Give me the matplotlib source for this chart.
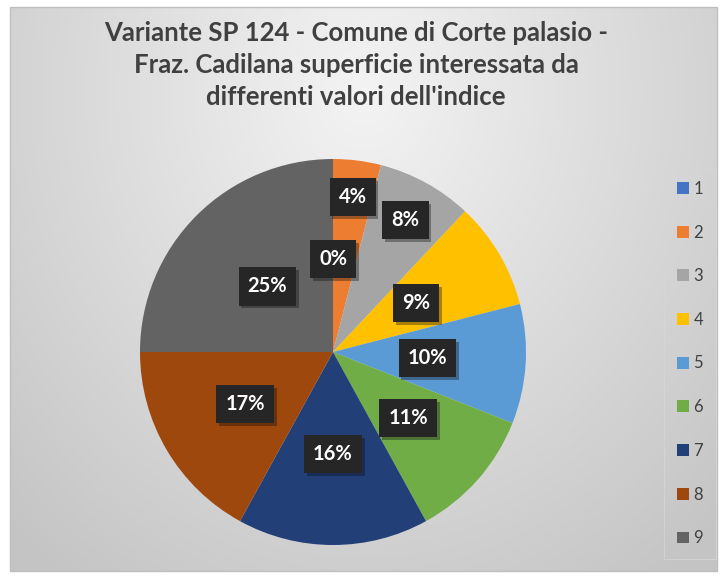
import numpy as np
import matplotlib
matplotlib.use("Agg")
import matplotlib.pyplot as plt
from matplotlib.patches import Rectangle, Patch
import matplotlib.patheffects as pe

categories = ["1", "2", "3", "4", "5", "6", "7", "8", "9"]
values = [0, 4, 8, 9, 10, 11, 16, 17, 25]
colors = ["#4472C4", "#ED7D31", "#A5A5A5", "#FFC000", "#5B9BD5",
          "#70AD47", "#223F78", "#9E480E", "#636363"]
label_dist = [0.48, 0.81, 0.78, 0.50, 0.49, 0.52, 0.53, 0.53, 0.48]
title = "Variante SP 124 - Comune di Corte palasio -\nFraz. Cadilana superficie interessata da\ndifferenti valori dell'indice"

W, H = 722, 576
fig = plt.figure(figsize=(W / 100, H / 100), dpi=100)
fig.patch.set_facecolor("white")

# background gradient inside chart frame
fl, ft, fr, fb = 10, 7, 717, 571
bg = fig.add_axes([0, 0, 1, 1], zorder=-10)
bg.set_xlim(0, W)
bg.set_ylim(H, 0)
bg.axis("off")
yy, xx = np.mgrid[0:200, 0:250]
xn = xx / 249.0
yn = yy / 199.0
d = np.sqrt(((xn - 0.5) / 0.75) ** 2 + ((yn - 0.15) / 1.1) ** 2)
g = np.clip(0.955 - 0.19 * d, 0.77, 0.96)
bg.imshow(np.dstack([g, g, g]), extent=[fl, fr, fb, ft], aspect="auto",
          interpolation="bilinear", zorder=0)
bg.add_patch(Rectangle((fl, ft), fr - fl, fb - ft, fill=False,
                       edgecolor="#bfbfbf", lw=1.0, zorder=1))

fig.text(356 / W, 1 - 65 / H, title, ha="center", va="center",
         fontsize=18.5, fontweight="bold", color="#404040",
         family="Lato", linespacing=1.42)

cx, cy, r = 333, 352, 193
ax = fig.add_axes([(cx - r) / W, (H - cy - r) / H, 2 * r / W, 2 * r / H])
wedges, _ = ax.pie(values, colors=colors, startangle=90, counterclock=False,
                   radius=1.0, wedgeprops=dict(linewidth=0))
ax.set_xlim(-1, 1)
ax.set_ylim(-1, 1)
ax.set_aspect("auto")

for w, v, dist in zip(wedges, values, label_dist):
    ang = np.deg2rad((w.theta1 + w.theta2) / 2)
    x, y = dist * np.cos(ang), dist * np.sin(ang)
    ax.text(x, y, f"{v}%", ha="center", va="center", fontsize=14.5,
            fontweight="bold", color="white", family="Lato",
            bbox=dict(boxstyle="square,pad=0.45", facecolor="#262626",
                      edgecolor="none",
                      path_effects=[pe.withSimplePatchShadow(offset=(2, -2),
                                                             alpha=0.35)]))

handles = [Patch(facecolor=c, edgecolor="none") for c in colors]
leg = fig.legend(handles, categories, loc="upper left",
                 bbox_to_anchor=(656 / W, 1 - 160 / H),
                 frameon=True, fontsize=12, labelspacing=1.66,
                 handlelength=0.7, handleheight=0.7, handletextpad=0.3,
                 borderpad=0.75, fancybox=False)
leg.get_frame().set_edgecolor("#d6d6d6")
leg.get_frame().set_facecolor("none")
leg.get_frame().set_linewidth(0.8)
for t in leg.get_texts():
    t.set_color("#404040")
    t.set_family("Lato")

fig.savefig("out.png", dpi=100)
